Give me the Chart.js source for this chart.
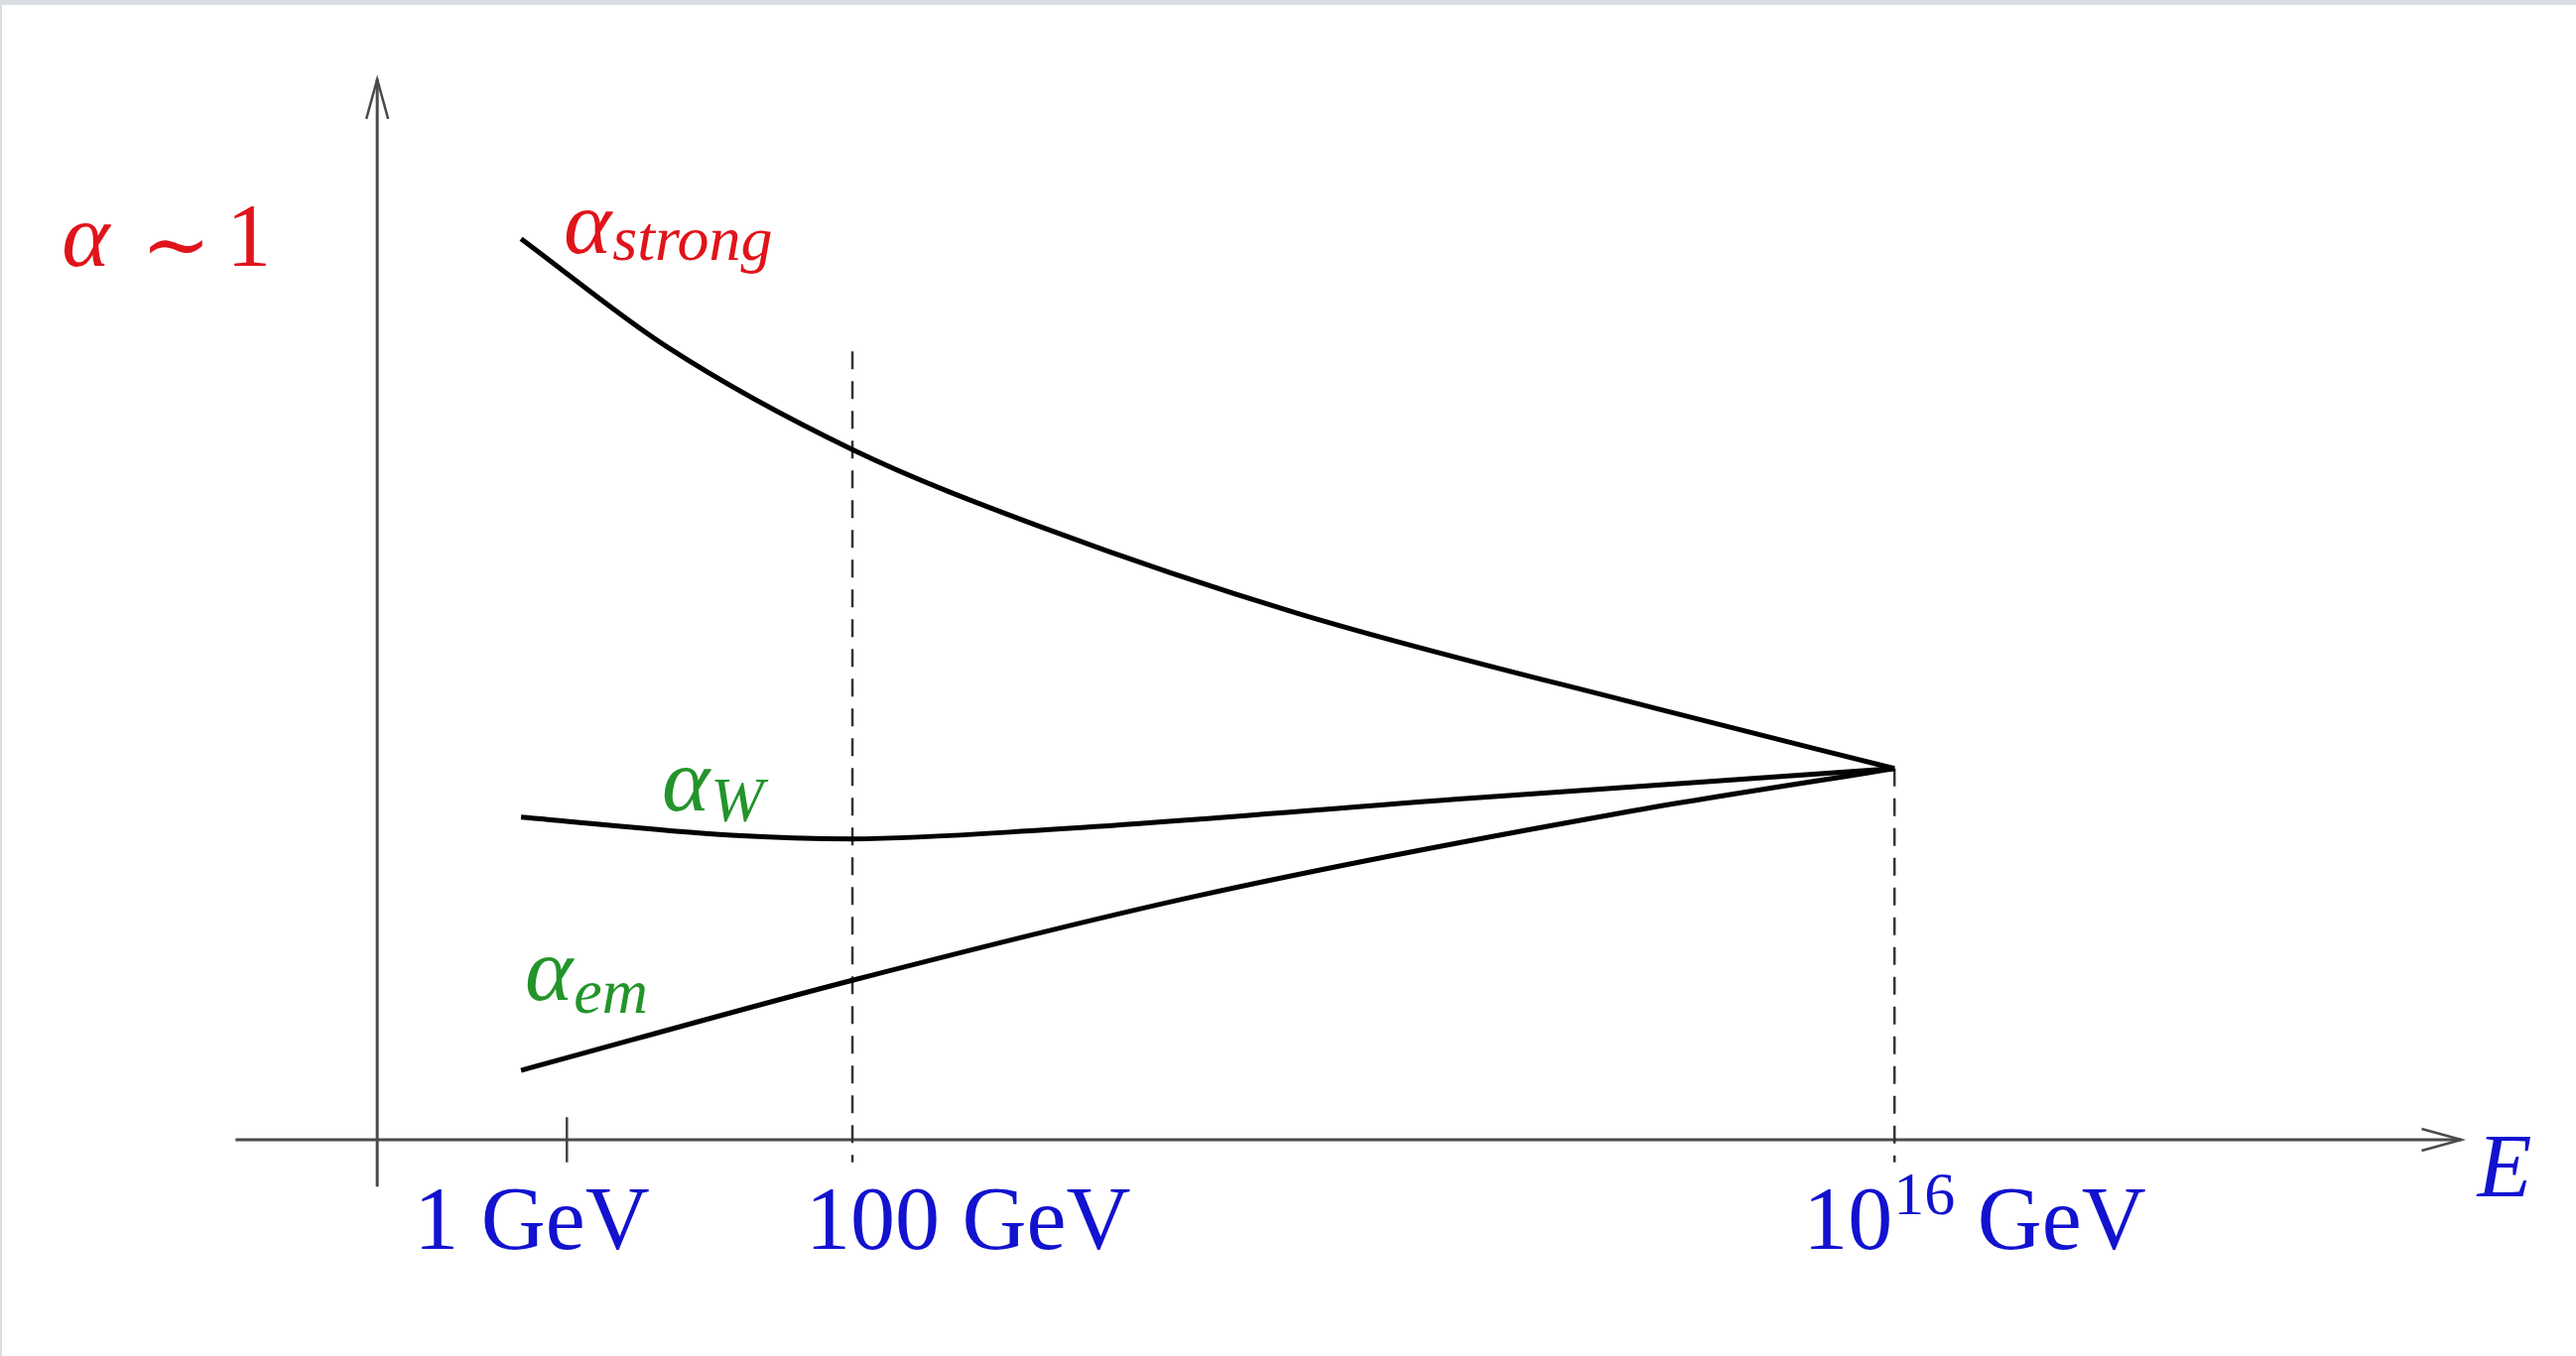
<!DOCTYPE html>
<html>
<head>
<meta charset="utf-8">
<title>Running couplings</title>
<script src="https://cdn.jsdelivr.net/npm/chart.js@4.4.1/dist/chart.umd.min.js"></script>
<style>
  html, body { margin:0; padding:0; background:#fff; }
  canvas { display:block; }
</style>
</head>
<body>
<canvas id="couplings" width="2596" height="1367"></canvas>
<script>
// schematic energy position (x) and coupling strength (y)
const strongX = [6.9, 13.9, 22.8, 32.1, 44.2, 61.3, 72.8];
const strongY = [1.000, 0.880, 0.766, 0.678, 0.584, 0.479, 0.412];

const weakX = [6.9, 17.0, 22.8, 32.1, 52.4, 72.8];
const weakY = [0.358, 0.338, 0.334, 0.344, 0.379, 0.412];

const emX = [6.9, 22.8, 39.4, 59.5, 72.8];
const emY = [0.077, 0.177, 0.271, 0.362, 0.412];

const tickPos = [9.1, 22.8, 72.8];
const tickLabels = ["1 GeV", "100 GeV", "10|16| GeV"];
const guideTop = [0.025, 0.875, 0.412];   // 1 GeV is a plain tick, the others dashed guides
const tickDepth = 0.025;

const axisXEnd = 100, axisXStart = -6.8;
const axisYEnd = 1.177, axisYStart = -0.052;

const RED = "#e0141a", GREEN = "#23942a", BLUE = "#1212cf";

function pts(xs, ys){ return xs.map((x, i) => ({ x: x, y: ys[i] })); }

function curve(xs, ys){
    return { data: pts(xs, ys), borderColor:"#000", borderWidth:5, pointRadius:0,
             cubicInterpolationMode:"monotone", fill:false };
}

function guide(i){
    return {
        data: [{ x: tickPos[i], y: guideTop[i] }, { x: tickPos[i], y: -tickDepth }],
        borderColor: i === 0 ? "#444" : "#333",
        borderWidth: 2.5,
        borderDash: i === 0 ? [] : [18, 12],
        pointRadius: 0, tension: 0, fill: false
    };
}

function arrowHead(ctx, x, y, dx, dy){
    const len = 40, half = 11;
    const nx = -dy, ny = dx;
    ctx.beginPath();
    ctx.moveTo(x - dx*len + nx*half, y - dy*len + ny*half);
    ctx.lineTo(x, y);
    ctx.lineTo(x - dx*len - nx*half, y - dy*len - ny*half);
    ctx.stroke();
}

// alpha with a subscript
function alphaLabel(ctx, sub, x, base, color, subDrop){
    ctx.fillStyle = color;
    ctx.font = "italic 92px 'Liberation Serif'";
    ctx.fillText("α", x, base);
    const w = ctx.measureText("α").width;
    ctx.font = "italic 64px 'Liberation Serif'";
    ctx.fillText(sub, x + w + 1, base + subDrop);
}

const sketchPlugin = {
    id: "sketch",
    beforeDraw(chart){
        const ctx = chart.ctx;
        ctx.save();
        ctx.fillStyle = "#fff";
        ctx.fillRect(0, 0, chart.width, chart.height);
        ctx.fillStyle = "#d9dde2";
        ctx.fillRect(0, 0, chart.width, 5);
        ctx.fillRect(0, 0, 2, chart.height);
        ctx.restore();
    },
    beforeDatasetsDraw(chart){
        const ctx = chart.ctx, sx = chart.scales.x, sy = chart.scales.y;
        const x0 = sx.getPixelForValue(0), y0 = sy.getPixelForValue(0);
        ctx.save();
        ctx.strokeStyle = "#4a4a4a";
        ctx.lineWidth = 3;
        ctx.beginPath();
        ctx.moveTo(sx.getPixelForValue(axisXStart), y0);
        ctx.lineTo(sx.getPixelForValue(axisXEnd), y0);
        ctx.moveTo(x0, sy.getPixelForValue(axisYStart));
        ctx.lineTo(x0, sy.getPixelForValue(axisYEnd));
        ctx.stroke();
        ctx.lineWidth = 2.5;
        arrowHead(ctx, sx.getPixelForValue(axisXEnd), y0, 1, 0);
        arrowHead(ctx, x0, sy.getPixelForValue(axisYEnd), 0, -1);
        ctx.restore();
    },
    afterDraw(chart){
        const ctx = chart.ctx, sx = chart.scales.x, sy = chart.scales.y;
        const x0 = sx.getPixelForValue(0), y0 = sy.getPixelForValue(0);
        ctx.save();
        ctx.textBaseline = "alphabetic";

        // alpha ~ 1 at the strong coupling start level
        const yOne = sy.getPixelForValue(strongY[0]);
        ctx.fillStyle = RED;
        ctx.font = "italic 92px 'Liberation Serif'";
        ctx.fillText("α", x0 - 318, yOne + 27);
        ctx.font = "84px 'DejaVu Serif'";
        ctx.fillText("∼", x0 - 238, yOne + 34);
        ctx.font = "90px 'Liberation Serif'";
        ctx.fillText("1", x0 - 152, yOne + 27);

        const sStart = { x: sx.getPixelForValue(strongX[0]), y: sy.getPixelForValue(strongY[0]) };
        const wStart = { x: sx.getPixelForValue(weakX[0]), y: sy.getPixelForValue(weakY[0]) };
        const eStart = { x: sx.getPixelForValue(emX[0]), y: sy.getPixelForValue(emY[0]) };
        alphaLabel(ctx, "strong", sStart.x + 43, sStart.y + 14, RED, 7);
        alphaLabel(ctx, "W", wStart.x + 142, wStart.y - 7, GREEN, 11);
        alphaLabel(ctx, "em", eStart.x + 4, eStart.y - 71, GREEN, 13);

        // energy labels under the axis
        const labelShift = [-154, -47, -92];
        ctx.fillStyle = BLUE;
        tickLabels.forEach((lab, i) => {
            let x = sx.getPixelForValue(tickPos[i]) + labelShift[i];
            const base = y0 + 110;
            const parts = lab.split("|");
            ctx.font = "90px 'Liberation Serif'";
            ctx.fillText(parts[0], x, base);
            if(parts.length > 1){
                x += ctx.measureText(parts[0]).width;
                ctx.font = "62px 'Liberation Serif'";
                ctx.fillText(parts[1], x + 1, base - 35);
                x += ctx.measureText(parts[1]).width + 1;
                ctx.font = "90px 'Liberation Serif'";
                ctx.fillText(parts[2], x, base);
            }
        });

        ctx.font = "italic 90px 'Liberation Serif'";
        ctx.fillText("E", sx.getPixelForValue(axisXEnd) + 16, y0 + 57);
        ctx.restore();
    }
};

new Chart(document.getElementById("couplings"), {
    type: "line",
    data: {
        datasets: [
            curve(strongX, strongY),
            curve(weakX, weakY),
            curve(emX, emY),
            guide(0), guide(1), guide(2)
        ]
    },
    options: {
        responsive: false,
        devicePixelRatio: 1,
        animation: false,
        layout: { padding: 0 },
        plugins: { legend: { display:false }, tooltip: { enabled:false } },
        scales: {
            x: { type:"linear", min:-18.1, max:105.5, display:false },
            y: { min:-0.24, max:1.265, display:false }
        }
    },
    plugins: [sketchPlugin]
});
</script>
</body>
</html>
